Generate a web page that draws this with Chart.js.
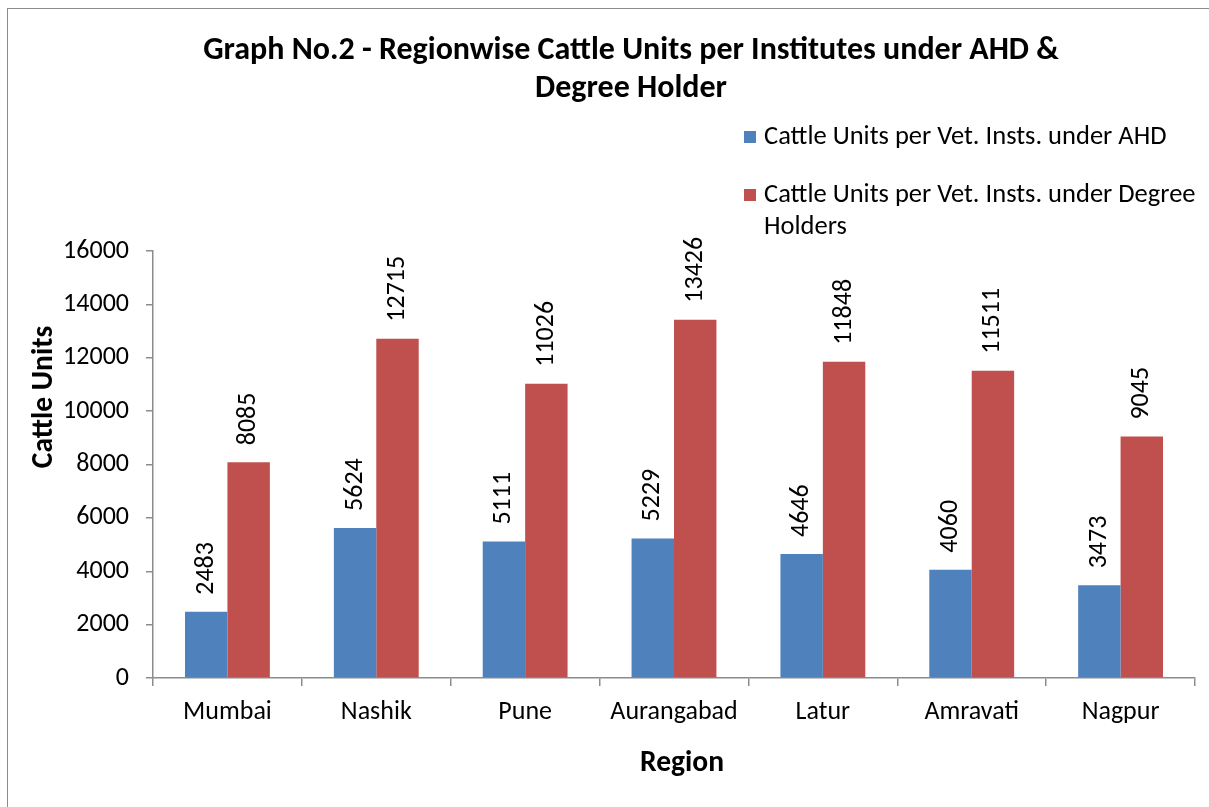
<!DOCTYPE html>
<html>
<head>
<meta charset="utf-8">
<script src="https://cdn.jsdelivr.net/npm/chart.js@4/dist/chart.umd.min.js"></script>
<style>
  html, body { margin: 0; padding: 0; background: #fff; overflow: hidden; }
  #frame { position: absolute; left: 7px; top: 8px; width: 1260px; height: 820px; border: 1px solid #8c8c8c; }
  #wrap { position: absolute; left: 0; top: 0; width: 1209px; height: 807px; }
</style>
</head>
<body>
<div id="frame"></div>
<div id="wrap"><canvas id="chart" width="1209" height="807"></canvas></div>
<script>
const FONT = 'Carlito, Calibri, Lato, sans-serif';

const regions = ['Mumbai', 'Nashik', 'Pune', 'Aurangabad', 'Latur', 'Amravati', 'Nagpur'];
const ahdValues = [2483, 5624, 5111, 5229, 4646, 4060, 3473];
const degreeValues = [8085, 12715, 11026, 13426, 11848, 11511, 9045];
const seriesNames = ['Cattle Units per Vet. Insts. under AHD', 'Cattle Units per Vet. Insts. under Degree Holders'];
const titleLines = ['Graph No.2 - Regionwise Cattle Units per Institutes under AHD &', 'Degree Holder'];
const yTicks = [0, 2000, 4000, 6000, 8000, 10000, 12000, 14000, 16000];

// ---- extras: title, legend, axis titles, value labels ----
const extras = {
  id: 'extras',
  afterDatasetsDraw(chart) {
    const ctx = chart.ctx;
    ctx.save();
    ctx.fillStyle = '#000';

    // value labels, rotated
    ctx.font = '26px ' + FONT;
    chart.data.datasets.forEach((ds, i) => {
      chart.getDatasetMeta(i).data.forEach((bar, j) => {
        ctx.save();
        ctx.translate(bar.x, bar.y - 17);
        ctx.rotate(-Math.PI / 2);
        ctx.textAlign = 'left';
        ctx.textBaseline = 'middle';
        ctx.fillText(String(ds.data[j]), 0, 0);
        ctx.restore();
      });
    });

    // title
    ctx.font = 'bold 32px ' + FONT;
    ctx.textAlign = 'center';
    ctx.textBaseline = 'middle';
    ctx.fillText(titleLines[0], 631, 51);
    ctx.fillText(titleLines[1], 631, 89);

    // legend
    ctx.font = '26.5px ' + FONT;
    ctx.textAlign = 'left';
    const items = [
      { lines: [seriesNames[0]], y: 137 },
      { lines: ['Cattle Units per Vet. Insts. under Degree', 'Holders'], y: 195 },
    ];
    items.forEach((it, i) => {
      ctx.fillStyle = chart.data.datasets[i].backgroundColor;
      ctx.fillRect(744, it.y - 6, 12, 12);
      ctx.fillStyle = '#000';
      it.lines.forEach((ln, k) => ctx.fillText(ln, 764, it.y + k * 32));
    });

    // axis titles
    ctx.font = 'bold 29.5px ' + FONT;
    ctx.textAlign = 'center';
    ctx.fillText('Region', 682, 764);
    ctx.save();
    ctx.translate(45, 397);
    ctx.rotate(-Math.PI / 2);
    ctx.fillText('Cattle Units', 0, 0);
    ctx.restore();

    ctx.restore();
  }
};

new Chart(document.getElementById('chart'), {
  type: 'bar',
  data: {
    labels: regions,
    datasets: [
      { label: seriesNames[0], data: ahdValues, backgroundColor: '#4f81bd' },
      { label: seriesNames[1], data: degreeValues, backgroundColor: '#c0504d' },
    ]
  },
  options: {
    responsive: false,
    animation: false,
    events: [],
    categoryPercentage: 0.57,
    barPercentage: 1,
    layout: { padding: { top: 251, right: 14, left: 0, bottom: 0 } },
    plugins: { legend: { display: false }, title: { display: false }, tooltip: { enabled: false } },
    scales: {
      x: {
        afterFit: s => { s.height = 129; },
        grid: { display: true, drawOnChartArea: false, drawTicks: true, tickLength: 8, color: '#8c8c8c', lineWidth: 1.5 },
        border: { display: true, color: '#8c8c8c', width: 1.5 },
        ticks: { color: '#000', font: { family: FONT, size: 26 }, padding: 11, maxRotation: 0 }
      },
      y: {
        min: 0,
        max: 16000,
        afterFit: s => { s.width = 153; },
        afterBuildTicks: s => { s.ticks = yTicks.map(v => ({ value: v })); },
        grid: { display: true, drawOnChartArea: false, drawTicks: true, tickLength: 7, color: '#8c8c8c', lineWidth: 1.5 },
        border: { display: true, color: '#8c8c8c', width: 1.5 },
        ticks: { color: '#000', font: { family: FONT, size: 26 }, padding: 17, callback: v => String(v) }
      }
    }
  },
  plugins: [extras]
});
</script>
</body>
</html>
